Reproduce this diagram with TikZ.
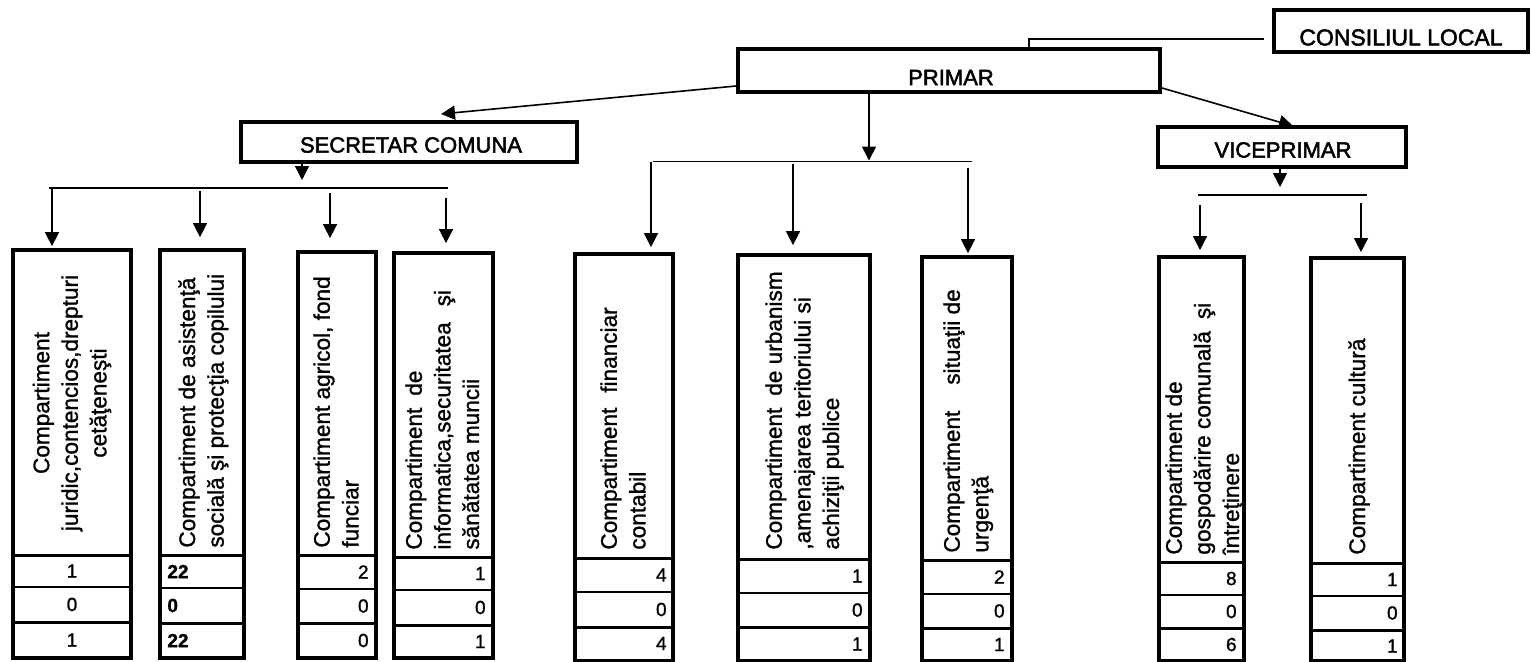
\documentclass[tikz,border=0pt]{standalone}
\usepackage{fontspec}
\setmainfont{Liberation Sans}[RawFeature={embolden=1.2}]
\newfontfamily\hfont{Liberation Sans}[RawFeature={embolden=2.2}]
\usetikzlibrary{arrows.meta,fit}
\tikzset{
  hdrbox/.style={draw, line width=2pt, inner sep=0pt},
  cboxst/.style={draw, line width=1.9pt, inner sep=0pt},
  septhick/.style={line width=1.5pt},
  septhin/.style={line width=0.8pt},
  conn/.style={line width=0.8pt},
  arr/.style={conn, -{Triangle[length=7pt,width=7pt]}},
  htext/.style={inner sep=0pt, font=\hfont\fontsize{11}{13}\selectfont},
  vtext/.style={inner sep=0pt, rotate=90, anchor=north west, align=left, font=\fontsize{11.3}{14.3}\selectfont},
  num/.style={inner sep=0pt, font=\fontsize{9.5}{11}\selectfont},
}
\newcommand\compbox[8]{%
  \draw[septhick] (#2,#5) -- (#3,#5);
  \draw[septhin] (#2,#6) -- (#3,#6);
  \draw[septhick] (#2,#7) -- (#3,#7);
  \node[cboxst, fit={(#2,#4)(#3,#8)}] (#1) {};
}
\begin{document}
\begin{tikzpicture}[x=0.5pt,y=-0.5pt]
\useasboundingbox (0,0) rectangle (1531,661);

% header boxes
\node[hdrbox, fit={(1274,10)(1528,52)}] (cons) {};
\node[htext] (cons-t) at (1401,37.5) {\fontsize{11.5}{13}\selectfont CONSILIUL LOCAL};
\node[hdrbox, fit={(738,49)(1160,92)}] (primar) {};
\node[htext] (primar-t) at (951,77.5) {PRIMAR};
\node[hdrbox, fit={(241,122)(577,162)}] (secretar) {};
\node[htext] (secretar-t) at (411,145) {SECRETAR COMUNA};
\node[hdrbox, fit={(1158,127)(1406,167)}] (vice) {};
\node[htext] (vice-t) at (1283,150) {VICEPRIMAR};

% compartment boxes: name, xl, xr, top, sep, ra, rb, bottom
\compbox{b1}{13}{131}{250}{555}{587}{622}{658}
\compbox{b2}{160}{244}{250}{555}{588}{623}{658}
\compbox{b3}{298}{376}{252}{555}{589}{623}{658}
\compbox{b4}{394}{493}{253}{557}{590}{625}{658}
\compbox{b5}{575}{673}{254}{558}{592}{627}{661}
\compbox{b6}{738}{870}{255}{559}{593}{627}{661}
\compbox{b7}{922}{1012}{257}{560}{594}{628}{661}
\compbox{b8}{1159}{1244}{257}{562}{595}{628}{661}
\compbox{b9}{1311}{1404}{258}{563}{596}{630}{661}

% vertical texts
\node[vtext, anchor=center, align=center] (t1) at (72,403)
  {Compartiment\\ juridic,contencios,drepturi\\ cetăţeneşti};
\node[vtext] (t2) at (178,548) {Compartiment de asistenţă\\ socială şi protecţia copilului};
\node[vtext] (t3) at (313,548) {Compartiment agricol, fond\\ funciar};
\node[vtext] (t4) at (405,550) {Compartiment\hspace{6pt}de\\ informatica,securitatea\hspace{8pt}şi\\ sănătatea muncii};
\node[vtext] (t5) at (600,550) {Compartiment\hspace{7.5pt}financiar\\ contabil};
\node[vtext] (t6) at (765,550) {Compartiment\hspace{6pt}de urbanism\\ ,amenajarea teritoriului si\\ achiziţii publice};
\node[vtext] (t7) at (943,553) {Compartiment\hspace{13pt}situaţii de\\ urgenţă};
\node[vtext] (t8) at (1165,555) {Compartiment de\\ gospodărire comunală\hspace{6pt}şi\\ întreţinere};
\node[vtext] (t9) at (1348,555) {Compartiment cultură};

% numbers
\node[num] (n1a) at (72,571) {1};
\node[num] (n1b) at (72,604.5) {0};
\node[num] (n1c) at (72,640) {1};
\node[num, anchor=west] (n2a) at (167,571.5) {\bfseries 22};
\node[num, anchor=west] (n2b) at (167,605.5) {\bfseries 0};
\node[num, anchor=west] (n2c) at (167,640.5) {\bfseries 22};
\node[num, anchor=east] (n3a) at (369,572) {2};
\node[num, anchor=east] (n3b) at (369,606) {0};
\node[num, anchor=east] (n3c) at (369,640.5) {0};
\node[num, anchor=east] (n4a) at (486,573.5) {1};
\node[num, anchor=east] (n4b) at (486,607.5) {0};
\node[num, anchor=east] (n4c) at (486,641.5) {1};
\node[num, anchor=east] (n5a) at (667,575) {4};
\node[num, anchor=east] (n5b) at (667,609.5) {0};
\node[num, anchor=east] (n5c) at (667,643.5) {4};
\node[num, anchor=east] (n6a) at (863,576) {1};
\node[num, anchor=east] (n6b) at (863,610) {0};
\node[num, anchor=east] (n6c) at (863,644) {1};
\node[num, anchor=east] (n7a) at (1005,577) {2};
\node[num, anchor=east] (n7b) at (1005,611) {0};
\node[num, anchor=east] (n7c) at (1005,644.5) {1};
\node[num, anchor=east] (n8a) at (1237,578.5) {8};
\node[num, anchor=east] (n8b) at (1237,611.5) {0};
\node[num, anchor=east] (n8c) at (1237,644.5) {6};
\node[num, anchor=east] (n9a) at (1398,579.5) {1};
\node[num, anchor=east] (n9b) at (1398,613) {0};
\node[num, anchor=east] (n9c) at (1398,646) {1};

% connector coordinates
\coordinate (cA) at (1264,39);
\coordinate (cB) at (1029,39);
\coordinate (tipS) at (441,114);
\coordinate (tipV) at (1293,126);
\coordinate (pc) at (869,0);
\coordinate (sd) at (302,0);
\coordinate (vd) at (1280,0);
\coordinate (barL1) at (49,188);
\coordinate (barL2) at (448,188);
\coordinate (barC1) at (653,161.5);
\coordinate (barC2) at (972,161.5);
\coordinate (barV1) at (1198,195);
\coordinate (barV2) at (1367,195);
\coordinate (a1) at (52,0);
\coordinate (a2) at (200,0);
\coordinate (a3) at (330,0);
\coordinate (a4) at (446,0);
\coordinate (a5) at (651,0);
\coordinate (a6) at (793,0);
\coordinate (a7) at (968,0);
\coordinate (a8) at (1200,0);
\coordinate (a9) at (1361,0);

% top connectors
\draw[conn] (cA) -- (cB) -- (cB |- primar.north);
\draw[arr] ([yshift=-7.75pt]primar.west) -- (tipS);
\draw[arr] ([yshift=-8.75pt]primar.east) -- (tipV);
\draw[arr, shorten >=0.5pt] (primar.south -| pc) -- (barC1 -| pc);
\draw[arr, shorten >=4pt] (secretar.south -| sd) -- (barL1 -| sd);
\draw[arr, shorten >=4pt] (vice.south -| vd) -- (barV1 -| vd);

% bars
\draw[conn] (barL1) -- (barL2);
\draw[conn] (barC1) -- (barC2);
\draw[conn] (barV1) -- (barV2);

% arrows to compartments
\draw[arr, shorten >=1pt] (barL1 -| a1) -- (b1.north -| a1);
\draw[arr, shorten <=1.5pt, shorten >=5.5pt] (barL1 -| a2) -- (b2.north -| a2);
\draw[arr, shorten <=2.5pt, shorten >=6pt] (barL1 -| a3) -- (b3.north -| a3);
\draw[arr, shorten <=5pt, shorten >=4pt] (barL1 -| a4) -- (b4.north -| a4);
\draw[arr, shorten >=2.5pt] (barC1 -| a5) -- (b5.north -| a5);
\draw[arr, shorten <=1pt, shorten >=4pt] (barC1 -| a6) -- (b6.north -| a6);
\draw[arr, shorten <=3pt, shorten >=1pt] (barC1 -| a7) -- (b7.north -| a7);
\draw[arr, shorten <=5pt, shorten >=2.5pt] (barV1 -| a8) -- (b8.north -| a8);
\draw[arr, shorten <=4pt, shorten >=2pt] (barV1 -| a9) -- (b9.north -| a9);
\end{tikzpicture}
\end{document}
